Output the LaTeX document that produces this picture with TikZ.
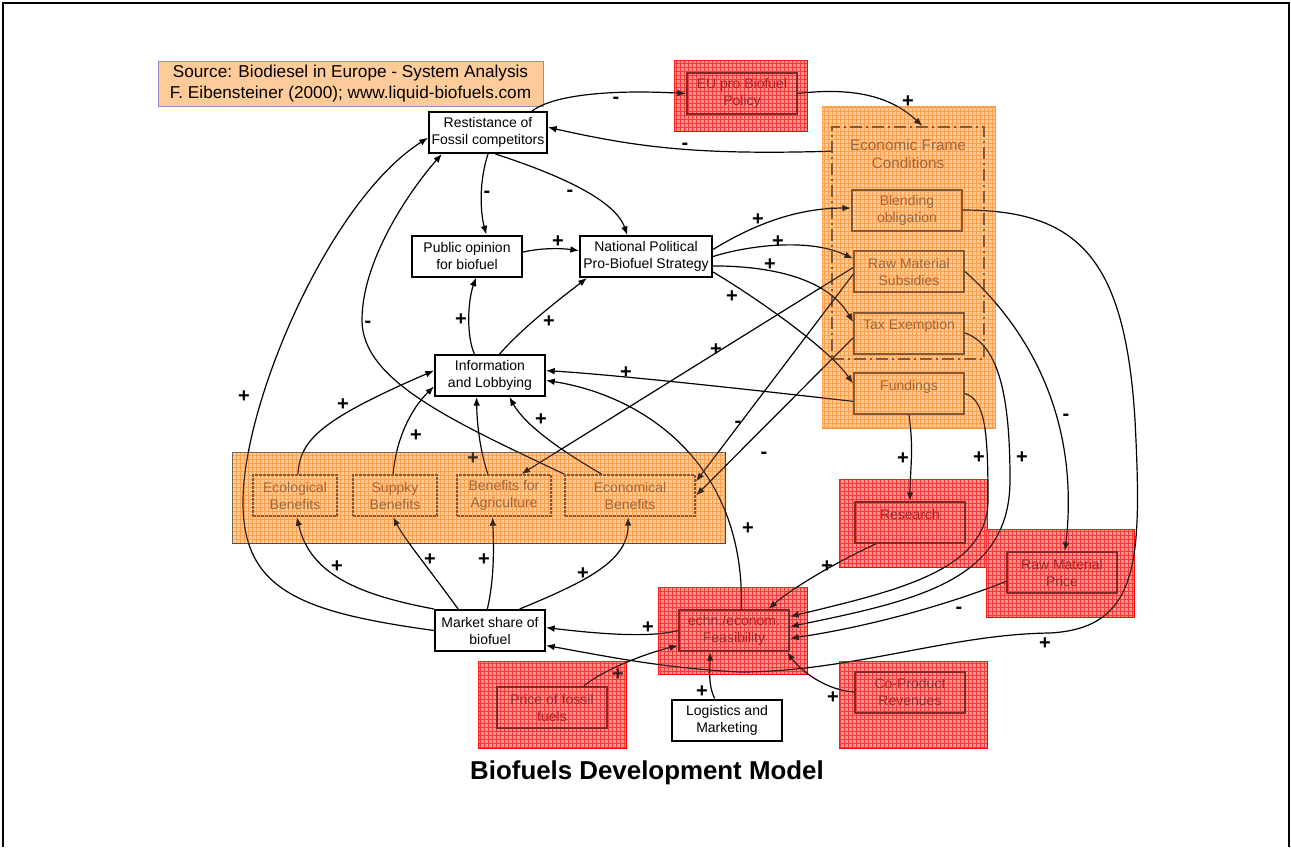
\documentclass[tikz,border=0pt]{standalone}
\usepackage{fontspec}
\setmainfont{Liberation Sans}
\usetikzlibrary{arrows.meta,patterns}
\definecolor{peach}{RGB}{255,204,153}
\definecolor{gridorange}{RGB}{255,150,60}
\definecolor{zonered}{RGB}{255,150,150}
\definecolor{gridred}{RGB}{255,30,30}
\definecolor{darkred}{RGB}{100,10,10}
\definecolor{textred}{RGB}{115,20,20}
\definecolor{brownline}{RGB}{100,60,25}
\definecolor{browntext}{RGB}{125,80,40}
\definecolor{srcline}{RGB}{140,140,200}
\newcommand\boxfont{\fontsize{10.5}{12.75}\selectfont}
\tikzset{
  box/.style={draw, line width=1.5pt, fill=white, minimum width=82.5pt,
    minimum height=30.75pt, inner sep=0pt, align=center, font=\boxfont},
  fbox/.style={box, fill=none, draw=brownline, text=browntext},
  rbox/.style={box, fill=none, draw=darkred, text=textred},
  bbox/.style={fbox, dash pattern=on 2pt off 1pt},
  efcframe/.style={draw=brownline, line width=1.5pt, dash pattern=on 9pt off 3pt on 1.5pt off 3pt,
    minimum width=114pt, minimum height=174pt, inner sep=0pt},
  link/.style={-{Latex[length=6.5pt,width=5pt]}, line width=0.9pt},
  sign/.style={font=\fontsize{15}{15}\bfseries\selectfont, inner sep=0pt},
}

\begin{document}
\begin{tikzpicture}[x=0.75pt, y=-0.75pt]
    \useasboundingbox (0,0) rectangle (1291,847);
    \draw [line width=1.5pt] (3,847) -- (3,3) -- (1289,3) -- (1289,847) ;
    % hatched zones
    \foreach \a/\b/\c/\d in {822/106/995/428, 232/452/725/543} {
      \fill [peach] (\a,\b) rectangle (\c,\d) ;
      \fill [pattern=grid, pattern color=gridorange, fill opacity=0.7] (\a,\b) rectangle (\c,\d) ;
    }
    \draw [gridorange, line width=0.6pt] (822,106) rectangle (995,428) ;
    \draw [black!70, line width=0.6pt] (232,452) rectangle (725,543) ;
    \foreach \a/\b/\c/\d in {674/60/807/131, 658/587/807/674, 478/661/626/748,
      839/479/987/567, 986/529/1134/617, 839/661/987/748} {
      \fill [zonered] (\a,\b) rectangle (\c,\d) ;
      \fill [pattern=grid, pattern color=gridred, fill opacity=0.5] (\a,\b) rectangle (\c,\d) ;
      \draw [red, line width=0.6pt] (\a,\b) rectangle (\c,\d) ;
    }
    \node [fill=peach, draw=srcline, line width=0.75pt, minimum width=288.75pt,
      minimum height=33.75pt, inner sep=0pt, align=center,
      font=\fontsize{12.9}{15.75}\selectfont] (src) at (350.5,83.5)
      {Source: Biodiesel in Europe - System Analysis\\F. Eibensteiner (2000); www.liquid-biofuels.com};
    % boxes
    \node [box, minimum width=88.5pt] (rest) at (488,132.5) {Restistance of\\Fossil competitors};
    \node [rbox] (eu) at (742,93.5) {EU pro Biofuel\\Policy};
    \node [efcframe] (efr) at (908,243) {};
    \node [align=center, text=browntext, font=\fontsize{11.5}{13.5}\selectfont] (efc) at (908,154) {Economic Frame\\Conditions};
    \node [fbox] (blend) at (907,210) {Blending\\obligation};
    \node [fbox] (sub) at (909,271.5) {Raw Material\\Subsidies};
    \node [fbox] (tax) at (909,333) {Tax Exemption\\\mbox{}};
    \node [fbox] (fund) at (909,393.5) {Fundings\\\mbox{}};
    \node [box] (pub) at (467,256) {Public opinion\\for biofuel};
    \node [box, minimum width=99pt] (nat) at (646,256.5) {National Political\\Pro-Biofuel Strategy};
    \node [box] (info) at (490,375.5) {Information\\and Lobbying};
    \node [bbox, minimum width=63pt] (eco) at (295,495.5) {Ecological\\Benefits};
    \node [bbox, minimum width=63pt] (sup) at (395,495.5) {Suppky\\Benefits};
    \node [bbox, minimum width=70.5pt] (agri) at (504,495.5) {Benefits for\\Agriculture};
    \node [bbox, minimum width=97.5pt] (econ) at (630,495.5) {Economical\\Benefits};
    \node [box] (market) at (490,630.5) {Market share of\\biofuel};
    \node [rbox] (feas) at (734,630.5) {echn./econom.\\Feasibility};
    \node [rbox] (fossil) at (552,707.5) {Price of fossil\\fuels};
    \node [box] (logi) at (727,720) {Logistics and\\Marketing};
    \node [rbox] (res) at (910,522.5) {Research\\\mbox{}};
    \node [rbox] (rmp) at (1062,572.5) {Raw Material\\Price};
    \node [rbox] (cop) at (910,692) {Co-Product\\Revenues};
    \node [font=\fontsize{19.4}{22}\bfseries\selectfont] (ttl) at (647,773) {Biofuels Development Model};
    % links
    \draw [link] (rest.26) .. controls (550,97) and (600,89) .. (eu.west);
    \draw [link] (eu.east) .. controls (860,86) and (895,100) .. (efr.83);
    \draw [link] (efr.130) .. controls (700,155) and (640,148) .. (rest.5);
    \draw [link] (rest.south) .. controls (478,185) and (481,215) .. (pub.48);
    \draw [link] (rest.-71) .. controls (560,175) and (615,200) .. (nat.131);
    \draw [link] (pub.4) .. controls (540,248) and (560,248) .. (nat.175);
    \draw [link] (nat.6) .. controls (745,230) and (790,208) .. (blend.178);
    \draw [link] (nat.east) .. controls (750,245) and (810,238) .. (sub.167);
    \draw [link] (nat.-8) .. controls (780,266) and (830,282) .. (tax.169);
    \draw [link] (nat.-13) .. controls (760,300) and (830,350) .. (fund.170);
    \draw [link] (info.126) .. controls (466,335) and (468,300) .. (pub.-67);
    \draw [link] (info.66) .. controls (525,325) and (565,295) .. (nat.200);
    \draw [link] (fund.188) .. controls (780,393) and (620,375) .. (info.5);
    \draw [link] (feas.71) .. controls (745,460) and (640,395) .. (info.-5);
    \draw [link] (sub.176) -- (agri.51);
    \draw [link] (sub.183) -- (econ.12);
    \draw [link] (tax.185) -- (econ.east);
    \draw [link] (econ.north west) .. controls (450,420) and (362,380) .. (362,320)
      .. controls (362,260) and (410,190) .. (rest.-155);
    \draw [link] (market.west) .. controls (300,612) and (242,590) .. (243,500)
      .. controls (244,400) and (330,200) .. (rest.185);
    \draw [link] (market.north west) .. controls (360,595) and (310,575) .. (eco.-85);
    \draw [link] (market.146) .. controls (430,570) and (405,540) .. (sup.-95);
    \draw [link] (market.97) .. controls (494,580) and (494,550) .. (agri.-118);
    \draw [link] (market.36) .. controls (590,580) and (628,560) .. (econ.-95);
    \draw [link] (eco.82) .. controls (300,440) and (320,420) .. (info.175);
    \draw [link] (sup.95) .. controls (396,440) and (410,410) .. (info.191);
    \draw [link] (agri.127) .. controls (480,450) and (477,425) .. (info.-122);
    \draw [link] (econ.143) .. controls (560,450) and (525,425) .. (info.-48);
    \draw [link] (feas.west) .. controls (650,638) and (600,634) .. (market.3);
    \draw [link] (blend.east) .. controls (1080,210) and (1125,260) .. (1135,420)
      .. controls (1142,560) and (1140,628) .. (1050,633)
      .. controls (950,634) and (850,672) .. (740,672)
      .. controls (660,668) and (600,655) .. (market.-15);
    \draw [link] (sub.east) .. controls (1030,330) and (1080,420) .. (rmp.82);
    \draw [link] (tax.east) .. controls (1000,345) and (1010,400) .. (1010,480)
      .. controls (1010,580) and (920,600) .. (feas.4);
    \draw [link] (fund.east) .. controls (985,400) and (988,430) .. (988,500)
      .. controls (988,570) and (900,590) .. (feas.14);
    \draw [link] (rmp.-171) .. controls (960,600) and (880,625) .. (feas.-8);
    \draw [link] (fund.south) .. controls (914,450) and (910,470) .. (res.north);
    \draw [link] (res.212) .. controls (830,565) and (790,590) .. (feas.32);
    \draw [link] (cop.west) .. controls (825,690) and (800,670) .. (feas.-22);
    \draw [link] (logi.120) .. controls (708,685) and (710,670) .. (feas.-138);
    \draw [link] (fossil.34) .. controls (600,672) and (640,655) .. (feas.195);
    % signs
    \foreach \x/\y/\s [count=\i] in {616/100/-, 908/102/+, 685/146/-, 487/194/-, 570/193/-,
      558/242/+, 758/220/+, 778/242/+, 770/265/+, 732/297/+, 461/320/+, 549/322/+,
      626/373/+, 748/529/+, 716/350/+, 738/424/-, 764/455/-, 368/324/-, 244/397/+,
      337/567/+, 430/560/+, 484/560/+, 583/574/+, 343/405/+, 416/436/+, 473/459/+,
      541/420/+, 648/628/+, 1045/644/+, 1066/417/-, 1022/458/+, 979/458/+, 959/610/-,
      903/459/+, 827/567/+, 833/698/+, 702/692/+, 618/675/+}
      \node [sign] (sg\i) at (\x,\y) {\s};
    % tint over the zones
    \foreach \a/\b/\c/\d in {822/106/995/428, 232/452/725/543}
      \fill [peach, fill opacity=0.2] (\a,\b) rectangle (\c,\d) ;
    \foreach \a/\b/\c/\d in {674/60/807/131, 658/587/807/674, 478/661/626/748,
      839/479/987/567, 986/529/1134/617, 839/661/987/748}
      \fill [zonered, fill opacity=0.2] (\a,\b) rectangle (\c,\d) ;
\end{tikzpicture}
\end{document}
